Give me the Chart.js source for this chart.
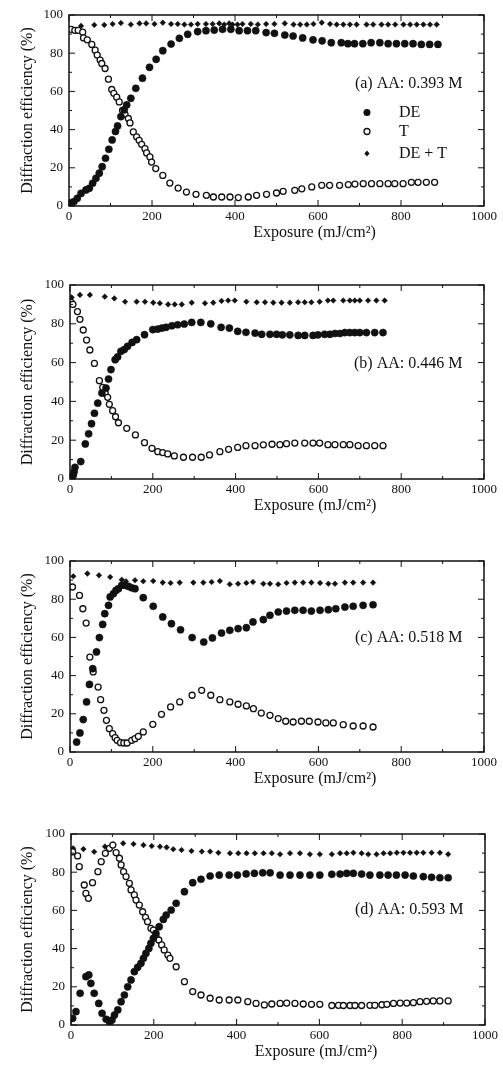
<!DOCTYPE html>
<html>
<head>
<meta charset="utf-8">
<script src="https://cdn.jsdelivr.net/npm/chart.js@4.4.1/dist/chart.umd.min.js"></script>
<style>
html, body { margin: 0; padding: 0; background: #fff; width: 503px; height: 1074px; overflow: hidden; }
.panel { position: absolute; left: 0; width: 503px; height: 268px; }
</style>
</head>
<body>
<div class="panel" style="top:0px"><canvas id="ca"></canvas></div>
<div class="panel" style="top:270px"><canvas id="cb"></canvas></div>
<div class="panel" style="top:546px"><canvas id="cc"></canvas></div>
<div class="panel" style="top:819px"><canvas id="cd"></canvas></div>
<script>
// (a) AA 0.393 M
const deA = [[5,1.7],[12,2.3],[20,4],[29,6.6],[41,8.4],[49,9.3],[57,11.9],[65,14.5],[73,17.2],[80,20.6],[88,25],[96,29.7],[104,34.6],[112,39],[117,41.9],[125,46.8],[133,50.3],[139,52.9],[149,56.4],[161,61.6],[177,66.9],[194,72.6],[210,76.8],[226,81.3],[246,84.8],[266,87.8],[286,89.9],[310,91.3],[330,91.8],[350,92.1],[370,92.5],[390,92.5],[410,91.8],[430,91.8],[450,91.8],[475,90.8],[495,90.4],[520,89.5],[540,89],[563,88],[588,87],[610,86.5],[632,85.5],[656,85.5],[672,85],[688,85],[708,85],[728,85.5],[749,85.5],[769,85],[789,85],[809,85],[829,85],[849,84.6],[869,84.6],[889,84.6]];
const tA = [[5,92.5],[14,92],[22,92],[33,91],[35,88],[44,87],[55,84.6],[63,81.6],[68,79],[75,76.4],[79,74.6],[87,72],[95,66.4],[103,61],[108,59],[115,57],[121,54.5],[129,50],[135,48],[143,45.8],[147,43.5],[155,38.8],[163,36.2],[169,34.4],[175,32.3],[183,30],[187,27.8],[195,25.7],[199,23],[209,19.6],[226,16],[243,12],[263,9.4],[283,7.3],[306,6.1],[331,5.6],[348,4.7],[368,4.7],[388,4.7],[408,4.4],[432,4.7],[452,5.6],[476,6.1],[500,6.8],[516,7.7],[544,8.2],[561,9],[585,10],[609,10.8],[628,10.8],[652,10.8],[673,11.2],[689,11.5],[709,11.7],[729,11.7],[749,11.7],[769,11.7],[785,11.7],[805,11.7],[825,12.4],[841,12.4],[861,12.4],[881,12.4]];
const sumA = [[29,94.3],[61,94.8],[85,94.8],[105,95.3],[125,95.8],[149,95],[170,95.6],[186,95.6],[206,95.3],[226,96],[246,95.3],[262,95.3],[278,95],[294,95],[310,95.3],[330,95.3],[346,95.3],[362,95.6],[374,95],[386,95.6],[394,95],[406,95],[418,95.3],[438,95.3],[455,95],[475,95.3],[495,95.3],[520,95.6],[541,95],[557,95],[573,95],[589,95.3],[609,96],[629,95.3],[645,95],[661,95],[677,95],[693,95],[717,95],[733,95],[753,95],[769,95],[786,95],[806,95],[822,95],[838,95],[854,95],[870,95],[886,95]];

// (b) AA 0.446 M
const deB = [[5,0.8],[8,2],[10,3.8],[12,6],[26,9],[37,18.1],[45,23.3],[52,28.5],[59,33.9],[67,39.1],[77,44.3],[87,46.9],[93,51.5],[99,56.4],[109,61.5],[115,62.9],[123,65.8],[131,66.7],[139,68.4],[150,70.4],[161,71.8],[180,74.4],[200,77],[212,77.3],[222,77.8],[232,78.2],[246,79],[260,79.5],[276,79.9],[294,80.7],[316,80.7],[340,80],[365,78.2],[385,77.8],[405,76.1],[425,75.6],[447,75.2],[463,74.6],[483,74.6],[499,74.6],[513,74.3],[531,74.3],[551,74],[567,74],[587,74],[599,74.3],[615,74.6],[628,74.6],[640,75],[652,75],[664,75.5],[676,75.5],[688,75.5],[700,75.5],[716,75.5],[736,75.5],[756,75.5]];
const tB = [[3,91],[7,90],[18,86.3],[24,82.3],[32,76.8],[40,71.6],[48,66.5],[59,59.6],[71,50.7],[79,47.2],[85,44.2],[91,42.1],[95,38.5],[103,35.2],[110,32.1],[117,29],[137,26.1],[158,22.7],[180,18.7],[198,15.8],[212,14.1],[224,13.6],[236,12.9],[252,11.9],[274,11.2],[296,11.2],[317,11.2],[337,12.4],[362,14.1],[383,15.3],[405,16.3],[425,17.2],[447,17.2],[467,17.6],[488,17.9],[507,17.7],[523,18.2],[543,18.5],[567,18.5],[587,18.5],[603,18.5],[623,17.7],[640,17.7],[660,17.7],[676,17.7],[696,17.2],[716,17.2],[736,17.2],[756,17.2]];
const sumB = [[4,93.6],[24,94.9],[48,94.9],[84,94],[107,93.1],[133,91.4],[161,91.4],[181,91.4],[201,90.9],[217,90.6],[237,90],[253,90],[270,90],[294,90.9],[326,90.6],[346,90.9],[366,91.8],[382,92],[398,92],[426,91.4],[451,91.1],[471,91.1],[491,90.9],[511,90.9],[531,90.9],[551,91.1],[567,91.1],[583,91.1],[603,91.4],[623,92],[636,92],[660,92],[676,92],[688,92],[700,92],[720,92],[740,92],[760,92]];

// (c) AA 0.518 M
const deC = [[16,5.2],[24,10],[32,17],[40,26.2],[47,35.4],[55,43.6],[64,52.4],[71,59.9],[79,66.8],[84,72.4],[93,76.8],[97,81.2],[105,82.9],[111,84.6],[117,85.5],[125,87.3],[133,87.3],[141,86.7],[149,86],[157,85.5],[177,80.8],[201,76.3],[224,70.7],[245,67.2],[267,64],[295,59.9],[323,57.6],[344,59.7],[366,62.3],[386,63.7],[406,64.6],[426,65.1],[442,68.1],[467,69.3],[483,71.6],[503,73.3],[523,73.8],[543,74.2],[563,74.2],[583,73.8],[604,74.2],[624,74.5],[642,75],[664,75.9],[684,76.3],[708,76.8],[732,77.1]];
const tC = [[6,86.4],[23,82],[31,75],[39,67.5],[48,49.7],[56,41.9],[68,34],[74,27.4],[82,21.8],[88,16.6],[95,12.2],[103,9.6],[109,7.5],[114,6.1],[122,4.9],[130,4.7],[138,4.7],[149,6.1],[157,7],[165,8.2],[177,10.5],[200,14.5],[221,19.7],[243,23.6],[265,26.2],[295,29.7],[318,32.3],[340,29.7],[362,27.4],[386,26.2],[406,25],[426,24.1],[443,22.7],[462,20.4],[483,19.2],[503,17.5],[521,16.1],[539,15.7],[559,16.1],[578,16.1],[599,15.7],[618,15.2],[636,15.2],[660,14.3],[684,13.6],[708,13.6],[732,13.1]];
const sumC = [[8,92],[42,93.4],[70,92.5],[97,91.6],[125,90.2],[135,89.4],[157,89.9],[177,89.4],[201,89.5],[224,88.7],[243,88.5],[265,88.7],[298,88.7],[322,88.7],[342,89],[362,89.5],[386,87.8],[406,88.1],[426,88.5],[442,89],[467,88.1],[483,88.1],[503,87.8],[523,88.5],[543,88.7],[563,88.7],[583,88.7],[604,88.5],[624,88.1],[640,88.1],[664,88.7],[684,88.7],[708,88.7],[732,88.7]];

// (d) AA 0.593 M
const deD = [[4,3.5],[12,7],[22,16.6],[36,25.3],[43,26.2],[48,21.8],[56,16.6],[67,11.3],[75,6.1],[85,3],[93,1.7],[99,2.6],[105,5.2],[113,7.9],[121,12.2],[129,15.7],[137,20],[145,23.6],[153,27.9],[161,30.2],[169,32.3],[175,34.9],[181,37.5],[188,40.1],[193,42.8],[199,45.4],[205,48],[213,51.5],[223,55.3],[230,57.6],[242,60.2],[254,63.7],[274,69.8],[294,74.5],[314,76.3],[336,78],[358,78.5],[382,78.5],[402,78.5],[423,79.1],[443,79.4],[463,79.7],[481,79.7],[505,78.5],[529,78.5],[553,78.5],[577,78.5],[601,78.5],[630,78.9],[650,79],[666,79.4],[682,79.4],[702,79],[722,78.5],[746,78.5],[766,78.5],[786,78.5],[807,78.5],[827,78],[851,77.7],[871,77.3],[891,77.1],[911,77.1]];
const tD = [[4,90.7],[16,88.5],[20,82.9],[32,73.3],[36,68.9],[42,66.3],[52,74.5],[65,80.3],[73,85.5],[83,89.9],[93,92.5],[101,94.2],[109,90.2],[117,87.3],[121,83.8],[127,80.3],[133,77.7],[141,74.2],[145,70.7],[153,68.1],[157,65.4],[165,62.8],[173,59.3],[180,56.4],[185,54.1],[193,50.6],[199,49.7],[205,46.6],[212,44.5],[219,41.9],[225,39.3],[234,36.6],[239,34.9],[254,30.5],[274,22.7],[294,17.5],[314,15.7],[336,14],[358,13.1],[382,13.1],[403,13.1],[427,12.2],[447,11.3],[467,10.5],[485,11],[505,11.3],[521,11.5],[541,11.3],[561,11],[581,10.8],[601,10.8],[630,10.2],[646,10.3],[658,10.2],[674,10.2],[686,10.2],[702,10.2],[722,10.3],[734,10.3],[751,10.6],[763,10.8],[779,11.3],[795,11.5],[811,11.5],[827,11.7],[843,12.2],[859,12.4],[875,12.6],[891,12.6],[911,12.6]];
const sumD = [[5,92.5],[30,92.1],[56,90.7],[82,93.4],[102,94.6],[126,95.1],[151,94.8],[175,94.2],[195,93.7],[215,93.4],[231,93],[247,92],[267,91.6],[291,91.1],[316,90.8],[336,90.8],[356,90.2],[384,89.9],[404,89.9],[424,89.9],[444,89.9],[465,89.9],[485,89.9],[505,89.4],[529,89.9],[553,89.9],[577,89.4],[601,89.4],[630,89.4],[650,89.9],[666,89.9],[682,90.2],[702,89.9],[718,89.4],[738,89.4],[755,89.9],[771,89.9],[787,90.2],[803,90.2],[819,90.2],[835,90.2],[851,90.2],[871,90.2],[891,90.2],[911,89.4]];

const xTicks = [0, 200, 400, 600, 800, 1000];
const yTicks = [0, 20, 40, 60, 80, 100];
const seriesNames = ['DE', 'T', 'DE + T'];

const FONT = "'Liberation Serif', 'Times New Roman', serif";
const INK = '#111';

// frame, inward ticks, in-plot labels and x title
const frame = {
    id: 'frame',
    afterDatasetsDraw(chart, args, opts) {
        const ctx = chart.ctx, a = chart.chartArea, x = chart.scales.x, y = chart.scales.y;
        ctx.save();
        ctx.strokeStyle = INK;
        ctx.lineWidth = 1.5;
        ctx.strokeRect(a.left, a.top, a.right - a.left, a.bottom - a.top);
        ctx.lineWidth = 1;
        ctx.beginPath();
        for (let v = 0; v <= 1000; v += 100) {
            const px = x.getPixelForValue(v), len = v % 200 ? 3 : 6;
            ctx.moveTo(px, a.bottom); ctx.lineTo(px, a.bottom - len);
            ctx.moveTo(px, a.top); ctx.lineTo(px, a.top + len);
        }
        for (let v = 0; v <= 100; v += 10) {
            const py = y.getPixelForValue(v), len = v % 20 ? 3 : 6;
            ctx.moveTo(a.left, py); ctx.lineTo(a.left + len, py);
            ctx.moveTo(a.right, py); ctx.lineTo(a.right - len, py);
        }
        ctx.stroke();

        ctx.fillStyle = INK;
        ctx.font = '16px ' + FONT;
        ctx.textBaseline = 'middle';
        ctx.textAlign = 'right';
        ctx.fillText(opts.label, x.getPixelForValue(948), y.getPixelForValue(opts.labelY));

        if (opts.legend) {
            const mx = x.getPixelForValue(718), tx = x.getPixelForValue(795);
            const rows = [49, 39, 27.5];
            ctx.textAlign = 'left';
            rows.forEach((v, i) => {
                const py = y.getPixelForValue(v);
                ctx.fillText(seriesNames[i], tx, py);
                ctx.beginPath();
                if (i === 0) { ctx.arc(mx, py, 3.5, 0, Math.PI * 2); ctx.fill(); }
                else if (i === 1) { ctx.fillStyle = '#fff'; ctx.arc(mx, py, 3, 0, Math.PI * 2); ctx.fill(); ctx.lineWidth = 1.3; ctx.stroke(); ctx.fillStyle = INK; }
                else { ctx.moveTo(mx, py - 3); ctx.lineTo(mx + 2.6, py); ctx.lineTo(mx, py + 3); ctx.lineTo(mx - 2.6, py); ctx.closePath(); ctx.fill(); }
            });
        }

        ctx.textAlign = 'center';
        ctx.fillText('Exposure (mJ/cm²)', (a.left + a.right) / 2 + 38, a.bottom + 27);
        ctx.restore();
    }
};

function pts(list) { return list.map(p => ({x: p[0], y: p[1]})); }

function makePanel(id, de, t, sum, label, labelY, legend, box) {
    const plotH = box.bottom - box.top;
    new Chart(document.getElementById(id), {
        type: 'scatter',
        data: {
            datasets: [{
                label: seriesNames[0],
                data: pts(de),
                pointStyle: 'circle',
                pointRadius: 3.6,
                backgroundColor: INK,
                borderColor: INK,
                borderWidth: 0.5
            }, {
                label: seriesNames[1],
                data: pts(t),
                pointStyle: 'circle',
                pointRadius: 3,
                backgroundColor: '#fff',
                borderColor: INK,
                borderWidth: 1.3
            }, {
                label: seriesNames[2],
                data: pts(sum),
                pointStyle: 'rectRot',
                pointRadius: 2.8,
                backgroundColor: INK,
                borderColor: INK,
                borderWidth: 0.5
            }]
        },
        options: {
            responsive: true,
            maintainAspectRatio: false,
            animation: false,
            events: [],
            layout: {
                padding: {top: 15, left: 0, right: 503 - box.right, bottom: 268 - 15 - plotH - 20}
            },
            plugins: {
                legend: {display: false},
                tooltip: {enabled: false},
                frame: {label: label, labelY: labelY, legend: legend}
            },
            scales: {
                x: {
                    type: 'linear',
                    min: 0,
                    max: 1000,
                    afterBuildTicks: s => { s.ticks = xTicks.map(v => ({value: v})); },
                    afterFit: s => { s.height = 20; },
                    grid: {display: false, drawTicks: false},
                    border: {display: false},
                    ticks: {color: INK, padding: 3, maxRotation: 0, font: {family: FONT, size: 13}, callback: v => String(v)}
                },
                y: {
                    min: 0,
                    max: 100,
                    afterBuildTicks: s => { s.ticks = yTicks.map(v => ({value: v})); },
                    afterFit: s => { s.width = box.left; },
                    grid: {display: false, drawTicks: false},
                    border: {display: false},
                    ticks: {color: INK, padding: 6, font: {family: FONT, size: 13}, callback: v => String(v)},
                    title: {
                        display: true,
                        text: 'Diffraction efficiency (%)',
                        color: INK,
                        font: {family: FONT, size: 16},
                        padding: {top: 18, bottom: 0}
                    }
                }
            }
        },
        plugins: [frame]
    });
}

makePanel('ca', deA, tA, sumA, '(a) AA: 0.393 M', 64, true, {top: 15, bottom: 206, left: 69, right: 484});
makePanel('cb', deB, tB, sumB, '(b) AA: 0.446 M', 59.5, false, {top: 285, bottom: 479, left: 70, right: 484});
makePanel('cc', deC, tC, sumC, '(c) AA: 0.518 M', 60, false, {top: 561, bottom: 752, left: 70, right: 484});
makePanel('cd', deD, tD, sumD, '(d) AA: 0.593 M', 60.5, false, {top: 834, bottom: 1025, left: 71, right: 485});
</script>
</body>
</html>
